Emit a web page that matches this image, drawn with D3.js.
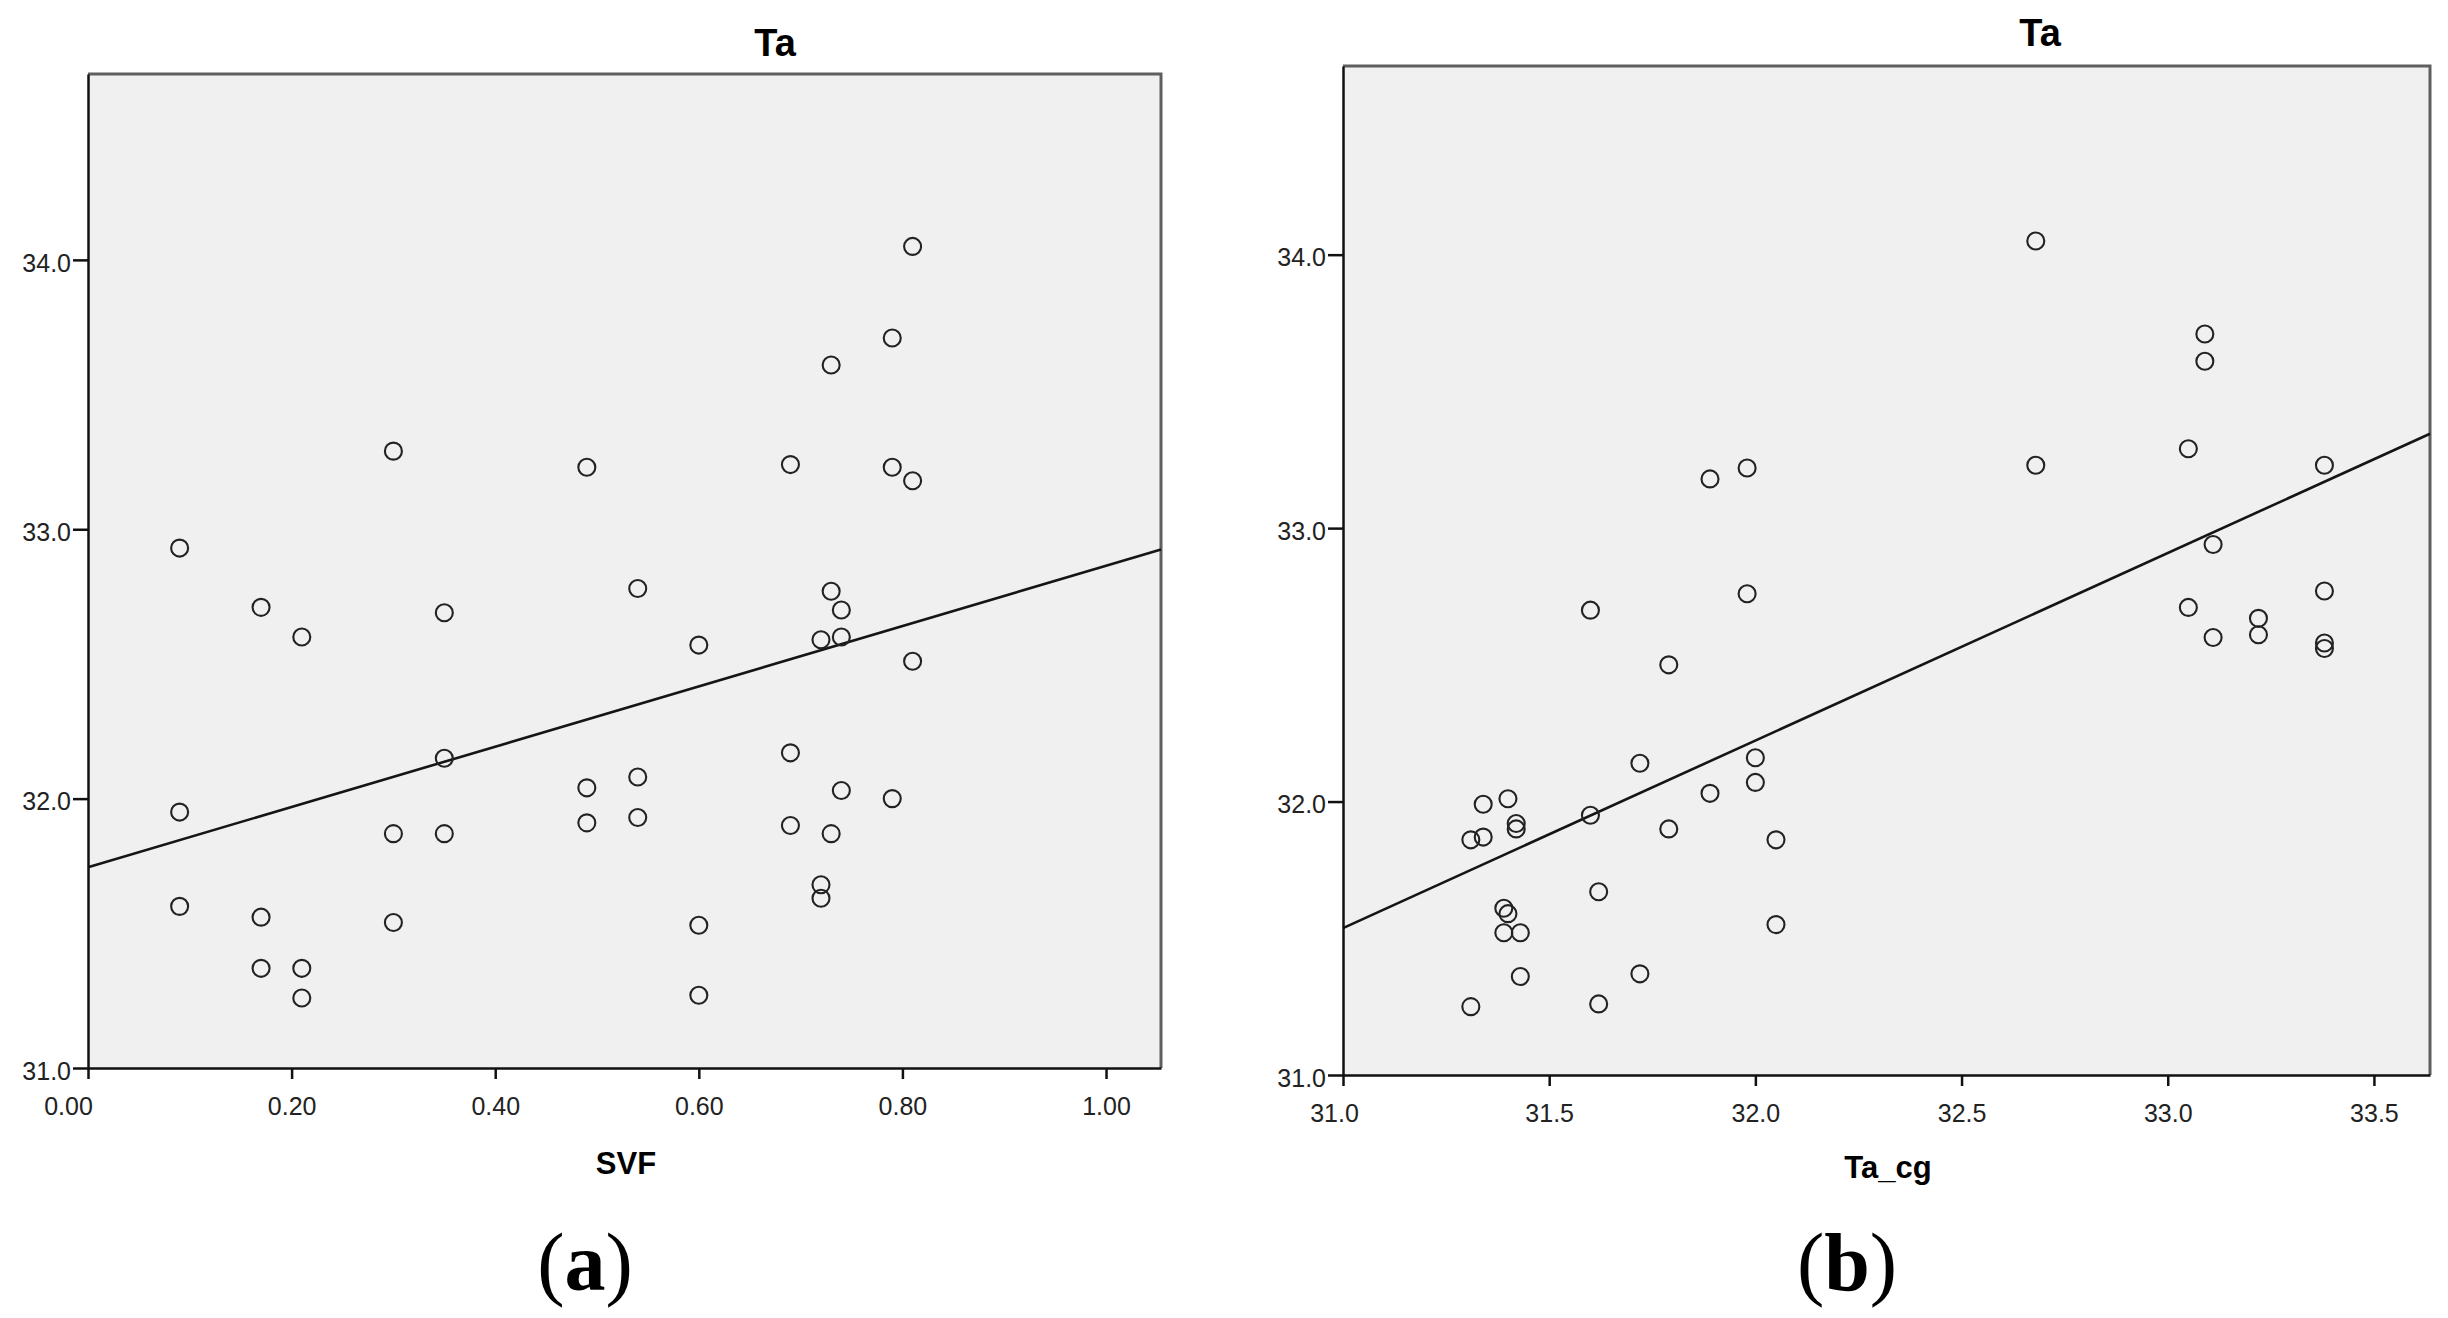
<!DOCTYPE html>
<html>
<head>
<meta charset="utf-8">
<script src="https://cdn.jsdelivr.net/npm/d3@7"></script>
<style>
  html, body { margin: 0; padding: 0; background: #fff; }
  svg { display: block; }
</style>
</head>
<body>
<div id="wrapper"></div>
<script>
// ---- data ----
// (a) SVF vs Ta
const svfA = [
  0.09, 0.09, 0.09, 0.17, 0.17, 0.17, 0.21, 0.21, 0.21,
  0.30, 0.30, 0.30, 0.35, 0.35, 0.35, 0.49, 0.49, 0.49,
  0.54, 0.54, 0.54, 0.60, 0.60, 0.60, 0.69, 0.69, 0.69,
  0.72, 0.72, 0.72, 0.73, 0.73, 0.73, 0.74, 0.74, 0.74,
  0.79, 0.79, 0.79, 0.81, 0.81, 0.81
]
const taA = [
  32.93, 31.95, 31.60, 32.71, 31.56, 31.37, 32.60, 31.37, 31.26,
  33.29, 31.87, 31.54, 32.69, 32.15, 31.87, 33.23, 32.04, 31.91,
  32.78, 32.08, 31.93, 32.57, 31.53, 31.27, 33.24, 32.17, 31.90,
  32.59, 31.68, 31.63, 33.61, 32.77, 31.87, 32.70, 32.60, 32.03,
  33.71, 33.23, 32.00, 34.05, 33.18, 32.51
]
// (b) Ta_cg vs Ta
const tacgB = [
  31.31, 31.31, 31.34, 31.34, 31.39, 31.39, 31.40, 31.40, 31.42,
  31.42, 31.43, 31.43, 31.60, 31.60, 31.62, 31.62, 31.72, 31.72,
  31.79, 31.79, 31.89, 31.89, 31.98, 31.98, 32.00, 32.00, 32.05,
  32.05, 32.68, 32.68, 33.09, 33.09, 33.05, 33.05, 33.11, 33.11,
  33.22, 33.22, 33.38, 33.38, 33.38, 33.38
]
const taB = [
  31.25, 31.86, 31.87, 31.99, 31.61, 31.52, 31.59, 32.01, 31.92,
  31.90, 31.52, 31.36, 32.70, 31.95, 31.67, 31.26, 32.14, 31.37,
  32.50, 31.90, 33.18, 32.03, 33.22, 32.76, 32.16, 32.07, 31.86,
  31.55, 34.05, 33.23, 33.71, 33.61, 33.29, 32.71, 32.94, 32.60,
  32.67, 32.61, 33.23, 32.77, 32.58, 32.56
]

const taTicks = [31, 32, 33, 34]
const svfTicks = [0, 0.2, 0.4, 0.6, 0.8, 1.0]
const tacgTicks = [31.0, 31.5, 32.0, 32.5, 33.0, 33.5]

const svfDomain = [0, 1.054]
const tacgDomain = [31, 33.636]
const taDomain = [31, 34.69]

const panelTitle = "Ta"
const xTitles = ["SVF", "Ta_cg"]
const captionLetters = ["a", "b"]

// ---- helpers ----
function linearFit(xs, ys) {
  const mx = d3.mean(xs), my = d3.mean(ys)
  let sxy = 0, sxx = 0
  xs.forEach((x, i) => {
    sxy += (x - mx) * (ys[i] - my)
    sxx += (x - mx) * (x - mx)
  })
  const slope = sxy / sxx
  return { slope, intercept: my - slope * mx }
}

const width = 2448
const height = 1318

const svg = d3.select("#wrapper")
  .append("svg")
    .attr("width", width)
    .attr("height", height)

svg.append("rect")
  .attr("width", width)
  .attr("height", height)
  .attr("fill", "#fff")

const sans = "'Liberation Sans', Arial, sans-serif"
const serif = "'Liberation Serif', 'DejaVu Serif', serif"

function drawPanel(p) {
  const xScale = d3.scaleLinear().domain(p.xDomain).range([p.left, p.right])
  const yScale = d3.scaleLinear().domain(taDomain).range([p.bottom, p.top])

  const g = svg.append("g")

  // plot area
  g.append("rect")
    .attr("x", p.left)
    .attr("y", p.top)
    .attr("width", p.right - p.left)
    .attr("height", p.bottom - p.top)
    .attr("fill", "#f0f0f0")

  // top and right frame (grey)
  g.append("path")
    .attr("d", `M${p.left},${p.top}H${p.right}V${p.bottom}`)
    .attr("fill", "none")
    .attr("stroke", "#5f5f5f")
    .attr("stroke-width", 3)

  // fit line
  const fit = linearFit(p.xs, p.ys)
  const ends = p.xDomain.map(x => [x, fit.intercept + fit.slope * x])
  g.append("path")
    .attr("d", d3.line().x(d => xScale(d[0])).y(d => yScale(d[1]))(ends))
    .attr("fill", "none")
    .attr("stroke", "#151515")
    .attr("stroke-width", 2.6)

  // points
  g.selectAll("circle")
    .data(p.xs.map((x, i) => [x, p.ys[i]]))
    .join("circle")
      .attr("cx", d => xScale(d[0]))
      .attr("cy", d => yScale(d[1]))
      .attr("r", 8.5)
      .attr("fill", "none")
      .attr("stroke", "#222")
      .attr("stroke-width", 2.1)

  // axes
  const yAxis = g.append("g")
    .attr("transform", `translate(${p.left},0)`)
    .call(d3.axisLeft(yScale)
      .tickValues(taTicks)
      .tickFormat(d3.format(".1f"))
      .tickSize(15)
      .tickPadding(2)
      .tickSizeOuter(0))
  const xAxis = g.append("g")
    .attr("transform", `translate(0,${p.bottom})`)
    .call(d3.axisBottom(xScale)
      .tickValues(p.xTicks)
      .tickFormat(d3.format(p.xFormat))
      .tickSize(11)
      .tickPadding(18)
      .tickSizeOuter(0))

  for (const ax of [xAxis, yAxis]) {
    ax.select(".domain").attr("stroke", "#111").attr("stroke-width", 2.5)
    ax.selectAll(".tick line").attr("stroke", "#111").attr("stroke-width", 2.5)
    ax.selectAll(".tick text")
      .attr("fill", "#222")
      .style("font-family", sans)
      .style("font-size", "25px")
  }
  yAxis.selectAll(".tick text").attr("dy", "0.45em")
  // first x label is nudged left, clear of the y axis
  xAxis.selectAll(".tick text").filter((d, i) => i === 0).attr("dx", p.firstLabelShift)

  // titles
  g.append("text")
    .attr("x", p.titleX)
    .attr("y", p.titleY)
    .attr("text-anchor", "middle")
    .style("font-family", sans)
    .style("font-weight", "bold")
    .style("font-size", "38px")
    .text(panelTitle)

  g.append("text")
    .attr("x", p.xTitleX)
    .attr("y", p.xTitleY)
    .attr("text-anchor", "middle")
    .style("font-family", sans)
    .style("font-weight", "bold")
    .style("font-size", "31px")
    .text(p.xTitle)

  const cap = g.append("text")
    .attr("x", p.captionX)
    .attr("y", 1290)
    .attr("text-anchor", "middle")
    .style("font-family", serif)
    .style("font-size", "82px")
  cap.append("tspan").text("(")
  cap.append("tspan").style("font-weight", "bold").text(p.caption)
  cap.append("tspan").text(")")
}

drawPanel({
  xs: svfA, ys: taA,
  xDomain: svfDomain, xTicks: svfTicks, xFormat: ".2f", firstLabelShift: -20,
  left: 88, right: 1161, top: 74, bottom: 1068,
  titleX: 775, titleY: 56,
  xTitle: xTitles[0], xTitleX: 626, xTitleY: 1174,
  caption: captionLetters[0], captionX: 585
})

drawPanel({
  xs: tacgB, ys: taB,
  xDomain: tacgDomain, xTicks: tacgTicks, xFormat: ".1f", firstLabelShift: -9,
  left: 1343, right: 2430, top: 66, bottom: 1075,
  titleX: 2040, titleY: 46,
  xTitle: xTitles[1], xTitleX: 1888, xTitleY: 1178,
  caption: captionLetters[1], captionX: 1847
})
</script>
</body>
</html>
